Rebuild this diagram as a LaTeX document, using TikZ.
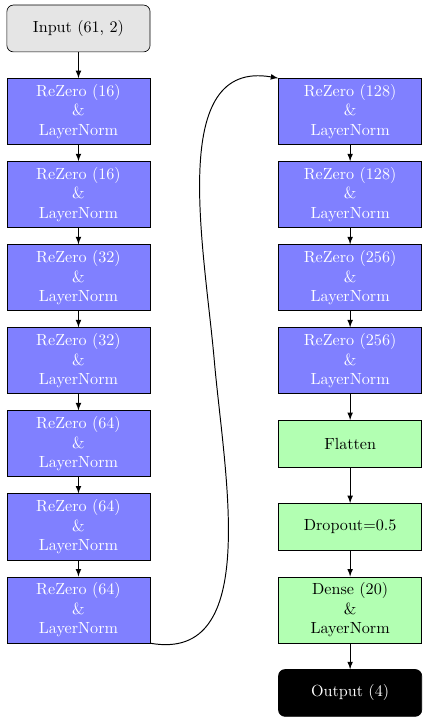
\documentclass[tikz,border=0pt]{standalone}
\usetikzlibrary{calc}
\newcommand{\s}{1.81cm}
\newcommand{\gap}{5.92cm}

\begin{document}
\begin{tikzpicture}[rect/.style={draw, rectangle, minimum width=3.12cm, minimum height=1.44cm, inner sep=0pt, align=center},
    rezero/.style={rect, fill=blue!50, text=white},
    layer/.style={rect, fill=green!30},
    io/.style={rect, rounded corners=4pt, minimum height=1.02cm},
    link/.style={->, semithick},
    >=latex]
    \useasboundingbox (-1.71,0.62) rectangle (7.53,-15.07);

    % Input
    \node[io, fill=gray!20] (input) at (0,0) {Input (61, 2)};

    % First column
    \node[rezero] (block-1-1) at (0,-1*\s) {ReZero (16)\\\&\\LayerNorm};
    \node[rezero] (block-1-2) at (0,-2*\s) {ReZero (16)\\\&\\LayerNorm};
    \node[rezero] (block-1-3) at (0,-3*\s) {ReZero (32)\\\&\\LayerNorm};
    \node[rezero] (block-1-4) at (0,-4*\s) {ReZero (32)\\\&\\LayerNorm};
    \node[rezero] (block-1-5) at (0,-5*\s) {ReZero (64)\\\&\\LayerNorm};
    \node[rezero] (block-1-6) at (0,-6*\s) {ReZero (64)\\\&\\LayerNorm};
    \node[rezero] (block-1-7) at (0,-7*\s) {ReZero (64)\\\&\\LayerNorm};

    % Second column
    \node[rezero] (block-2-1) at (\gap,-1*\s) {ReZero (128)\\\&\\LayerNorm};
    \node[rezero] (block-2-2) at (\gap,-2*\s) {ReZero (128)\\\&\\LayerNorm};
    \node[rezero] (block-2-3) at (\gap,-3*\s) {ReZero (256)\\\&\\LayerNorm};
    \node[rezero] (block-2-4) at (\gap,-4*\s) {ReZero (256)\\\&\\LayerNorm};
    \node[layer, minimum height=1.02cm] (flatten) at (\gap,-5*\s) {Flatten};
    \node[layer, minimum height=1.02cm] (dropout) at (\gap,-6*\s) {Dropout=0.5};
    \node[layer] (dense) at (\gap,-7*\s) {Dense (20)\\\&\\LayerNorm};

    % Output
    \node[io, fill=black, text=white] (output) at (\gap,-8*\s) {Output (4)};

    % Middle of the long link
    \coordinate (bend) at ($(block-1-4.east)!0.5!(block-2-4.west)$);

    % Arrows
    \draw[link] (input) -- (block-1-1);
    \draw[link] (block-1-1) -- (block-1-2);
    \draw[link] (block-1-2) -- (block-1-3);
    \draw[link] (block-1-3) -- (block-1-4);
    \draw[link] (block-1-4) -- (block-1-5);
    \draw[link] (block-1-5) -- (block-1-6);
    \draw[link] (block-1-6) -- (block-1-7);
    \draw[link] (block-1-7.south east) to[out=-10, in=-85] (bend) to[out=95, in=170] (block-2-1.north west);
    \draw[link] (block-2-1) -- (block-2-2);
    \draw[link] (block-2-2) -- (block-2-3);
    \draw[link] (block-2-3) -- (block-2-4);
    \draw[link] (block-2-4) -- (flatten);
    \draw[link] (flatten) -- (dropout);
    \draw[link] (dropout) -- (dense);
    \draw[link] (dense) -- (output);

\end{tikzpicture}
\end{document}
